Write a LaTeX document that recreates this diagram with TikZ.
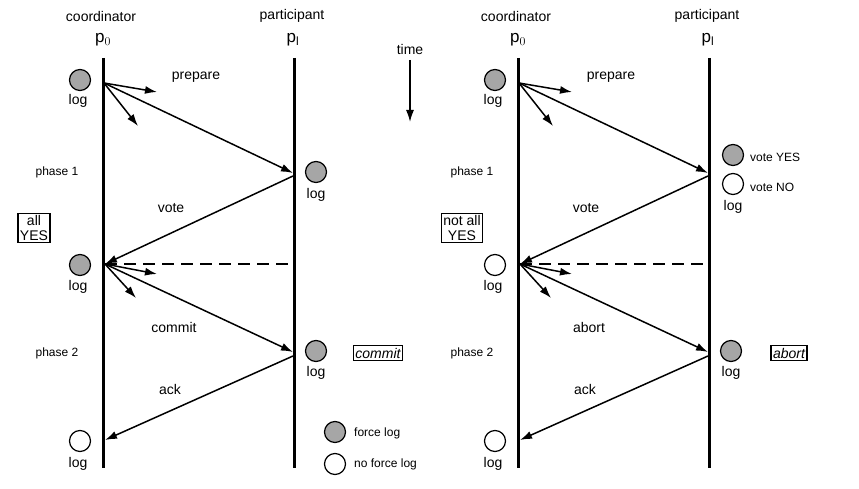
\documentclass[tikz,border=0pt]{standalone}
\usepackage{fontspec}
\setmainfont{Liberation Sans}
\usetikzlibrary{arrows.meta}
\begin{document}
\begin{tikzpicture}[x=1pt,y=-1pt,
 tl/.style={line width=3pt},
 msg/.style={line width=1.5pt,-{Latex[length=12pt,width=8pt]}},
 fl/.style={circle,draw,fill=gray!70,minimum size=21pt,inner sep=0,line width=1.2pt},
 nf/.style={circle,draw,fill=white,minimum size=21pt,inner sep=0,line width=1.2pt},
 t/.style={font=\fontsize{14pt}{15pt}\selectfont,inner sep=1pt},
 s/.style={font=\fontsize{12pt}{13pt}\selectfont,inner sep=1pt},
 bx/.style={draw,line width=1.2pt,font=\fontsize{14pt}{15pt}\selectfont,inner sep=2pt,align=center}]
\useasboundingbox (0,0) rectangle (859,489);
\node[t] at (410,49) {time};
\coordinate (ta) at (410,60); \coordinate (tb) at (410,122);
\draw[msg] (ta) -- (tb);
\node[fl] (lg1) at (335,432) {}; \node[s,anchor=west] at (353,433) {force log};
\node[nf] (lg2) at (335,464) {}; \node[s,anchor=west] at (353,464) {no force log};
\foreach \dx/\bt/\ab/\cst/\bxo/\abo in {0/all\\YES/commit/fl/34/378,415/not all\\YES/abort/nf/47/374}{
\begin{scope}[xshift=\dx]
\node[t] at (101,16) {coordinator};
\node[t] at (292,16) {participant};
\node[t,font=\fontsize{17pt}{18pt}\selectfont] at (103,40) {p$_0$};
\node[t,font=\fontsize{17pt}{18pt}\selectfont] at (293,40) {p$_\mathrm{l}$};
\coordinate (c0) at (103,58); \coordinate (c1) at (103,468);
\coordinate (q0) at (294,58); \coordinate (q1) at (294,468);
\draw[tl] (c0) -- (c1); \draw[tl] (q0) -- (q1);
\node[fl] (a1) at (80,80) {}; \node[t] at (78,101) {log};
\coordinate (s1) at (104,83);
\coordinate (r1) at (293,173);
\draw[msg] (s1) -- (r1);
\coordinate (x1) at (157,92); \coordinate (x2) at (138,126);
\draw[msg] (s1) -- (x1); \draw[msg] (s1) -- (x2);
\node[t] at (196,77) {prepare};
\node[s] at (57,172) {phase 1};
\coordinate (r1b) at (293,176); \coordinate (s2) at (105,264); \coordinate (d2) at (293,264);
\draw[msg] (r1b) -- (s2);
\node[t] at (171,208) {vote};
\node[bx] (bA) at (\bxo,228) {\bt};
\node[\cst] (a2) at (80,265) {}; \node[t] at (78,287) {log};
\draw[line width=1.5pt,dash pattern=on 12pt off 7pt] (s2) -- (d2);
\coordinate (r2) at (293,352); \coordinate (x3) at (157,274); \coordinate (x4) at (136,298);
\draw[msg] (s2) -- (r2); \draw[msg] (s2) -- (x3); \draw[msg] (s2) -- (x4);
\node[t] at (174,327) {\ab};
\node[s] at (57,353) {phase 2};
\node[fl] (a3) at (316,351) {}; \node[t] at (316,373) {log};
\node[bx,font=\fontsize{14pt}{15pt}\itshape] (bB) at (\abo,353) {\ab};
\coordinate (r2b) at (293,356); \coordinate (s3) at (105,440);
\draw[msg] (r2b) -- (s3);
\node[t] at (170,389) {ack};
\node[nf] (a4) at (80,441) {}; \node[t] at (78,464) {log};
\end{scope}}
\node[fl] (p1) at (316,172) {}; \node[t] at (316,195) {log};
\node[fl] (p2) at (733,155) {}; \node[s,anchor=west] at (749,157) {vote YES};
\node[nf] (p3) at (733,184) {}; \node[s,anchor=west] at (749,187) {vote NO};
\node[t] at (733,207) {log};
\end{tikzpicture}
\end{document}
